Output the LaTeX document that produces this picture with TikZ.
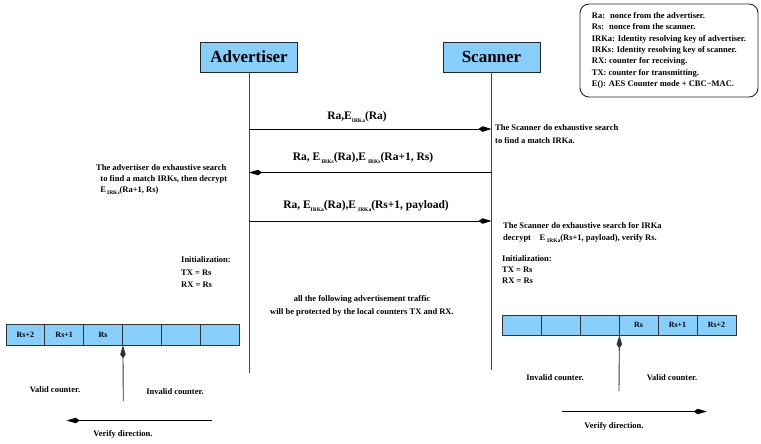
\documentclass[tikz,border=0pt]{standalone}
\usepackage{fontspec}
\setmainfont{Liberation Serif}
\usetikzlibrary{arrows.meta}
\definecolor{cellblue}{RGB}{135,206,250}
\definecolor{lifegray}{RGB}{70,70,70}
% small lowered index used for the key names under E
\newcommand{\lowidx}[1]{\raisebox{-0.5ex}{\fontsize{5.5}{5.5}\selectfont #1}}

\begin{document}
\begin{tikzpicture}[x=1pt,y=-1pt,
  every node/.style={font=\bfseries},
  actor/.style={draw=black!85, fill=cellblue, line width=0.9pt, minimum width=97pt,
    minimum height=30pt, inner sep=0pt, font=\fontsize{17}{17}\selectfont\bfseries},
  lifeline/.style={draw=lifegray, line width=1pt},
  tip/.style={-{Kite[length=13pt,width=5.5pt,inset=4pt]}},
  msg/.style={draw=black, line width=0.9pt, tip},
  msglabel/.style={font=\fontsize{11.5}{12}\selectfont\bfseries, inner sep=0pt},
  note/.style={font=\fontsize{8.5}{11}\selectfont\bfseries, align=left, inner sep=0pt,
    anchor=north west},
  small/.style={font=\fontsize{8.5}{11}\selectfont\bfseries, inner sep=0pt},
  legend/.style={draw=black!85, line width=0.9pt, rounded corners=9pt, minimum width=178pt,
    minimum height=93pt, align=left, font=\fontsize{8.5}{11.3}\selectfont\bfseries},
  lcell/.style={draw=black!80, fill=cellblue, line width=0.8pt, inner sep=0pt,
    minimum width=38.83pt, minimum height=21pt, font=\fontsize{8}{8}\selectfont\bfseries},
  rcell/.style={lcell, minimum width=39pt, minimum height=20pt},
  pointer/.style={draw=black!80, line width=0.9pt, tip}
]
\useasboundingbox (0,0) rectangle (761,444);

% key to the symbols
\node[legend] (key) at (669,50.5) {Ra:~ nonce from the advertiser.\\
Rs:~ nonce from the scanner.\\
IRKa: Identity resolving key of advertiser.\\
IRKs: Identity resolving key of scanner.\\
RX: counter for receiving.\\
TX: counter for transmitting.\\
E(): AES Counter mode + CBC−MAC.};

% the two parties and their lifelines
\node[actor] (adv) at (249,57) {Advertiser};
\node[actor] (scn) at (491.5,57) {Scanner};
\coordinate (advend) at (249,373);
\coordinate (scnend) at (491.5,370);
\draw[lifeline] (adv.south) -- (advend);
\draw[lifeline] (scn.south) -- (scnend);

% exchanged messages
\coordinate (a1) at (249,129);   \coordinate (s1) at (491.5,129);
\coordinate (a2) at (249,172.5); \coordinate (s2) at (491.5,172.5);
\coordinate (a3) at (249,221);   \coordinate (s3) at (491.5,221);
\draw[msg] (a1) -- (s1);
\draw[msg] (s2) -- (a2);
\draw[msg] (a3) -- (s3);
\node[msglabel] (m1) at (357,117) {Ra,E\lowidx{IRKa}(Ra)};
\node[msglabel] (m2) at (363,158) {Ra, E\kern1pt\lowidx{IRKs}(Ra),E\kern2pt\lowidx{IRKs}(Ra+1, Rs)};
\node[msglabel] (m3) at (366,206) {Ra, E\lowidx{IRKa}(Ra),E\kern2pt\lowidx{IRKa}(Rs+1, payload)};

% processing notes
\node[note, font=\fontsize{8.5}{13}\selectfont\bfseries] (n1) at (495,124.5)
  {The Scanner do exhaustive search\\to find a match IRKa.};
\node[note] (n2) at (96,164.5)
  {The advertiser do exhaustive search\\\ \ to find a match IRKs, then decrypt\\\ \ E\kern1pt\lowidx{IRKs}(Ra+1, Rs)};
\node[note, font=\fontsize{8.5}{12}\selectfont\bfseries] (n3) at (503,222.5)
  {The Scanner do exhaustive search for IRKa\\decrypt\quad E\kern2pt\lowidx{IRKa}(Rs+1, payload), verify Rs.};
\node[note, font=\fontsize{8.5}{12.5}\selectfont\bfseries] (ia) at (181,256.5)
  {Initialization:\\TX = Rs\\RX = Rs};
\node[note] (is) at (502,255.5)
  {Initialization:\\TX = Rs\\RX = Rs};
\node[small, align=center, font=\fontsize{8.5}{13}\selectfont\bfseries] (all) at (362,305.5)
  {all the following advertisement traffic\\will be protected by the local counters TX and RX.};

% advertiser's counter window
\node[lcell] (L1) at (25.4,334.5) {Rs+2};
\node[lcell] (L2) at (64.2,334.5) {Rs+1};
\node[lcell] (L3) at (103.1,334.5) {Rs};
\node[lcell] (L4) at (141.9,334.5) {};
\node[lcell] (L5) at (180.7,334.5) {};
\node[lcell] (L6) at (219.6,334.5) {};
\coordinate (lptr) at (123.3,401);
\draw[pointer] (lptr) -- (L3.south east);
\node[small] (lvalid) at (55,390) {Valid counter.};
\node[small] (linvalid) at (175,392) {Invalid counter.};
\coordinate (lv0) at (211.7,420.5); \coordinate (lv1) at (66.7,420.5);
\draw[msg] (lv0) -- (lv1);
\node[small] (ldir) at (123,434) {Verify direction.};

% scanner's counter window
\node[rcell] (R1) at (521.5,325) {};
\node[rcell] (R2) at (560.5,325) {};
\node[rcell] (R3) at (599.5,325) {};
\node[rcell] (R4) at (638.5,325) {Rs};
\node[rcell] (R5) at (677.5,325) {Rs+1};
\node[rcell] (R6) at (716.5,325) {Rs+2};
\coordinate (rptr) at (619,391);
\draw[pointer] (rptr) -- (R3.south east);
\node[small] (rinvalid) at (555,378) {Invalid counter.};
\node[small] (rvalid) at (672,378) {Valid counter.};
\coordinate (rv0) at (561.7,411.5); \coordinate (rv1) at (706.7,411.5);
\draw[msg] (rv0) -- (rv1);
\node[small] (rdir) at (614,426) {Verify direction.};
\end{tikzpicture}
\end{document}
